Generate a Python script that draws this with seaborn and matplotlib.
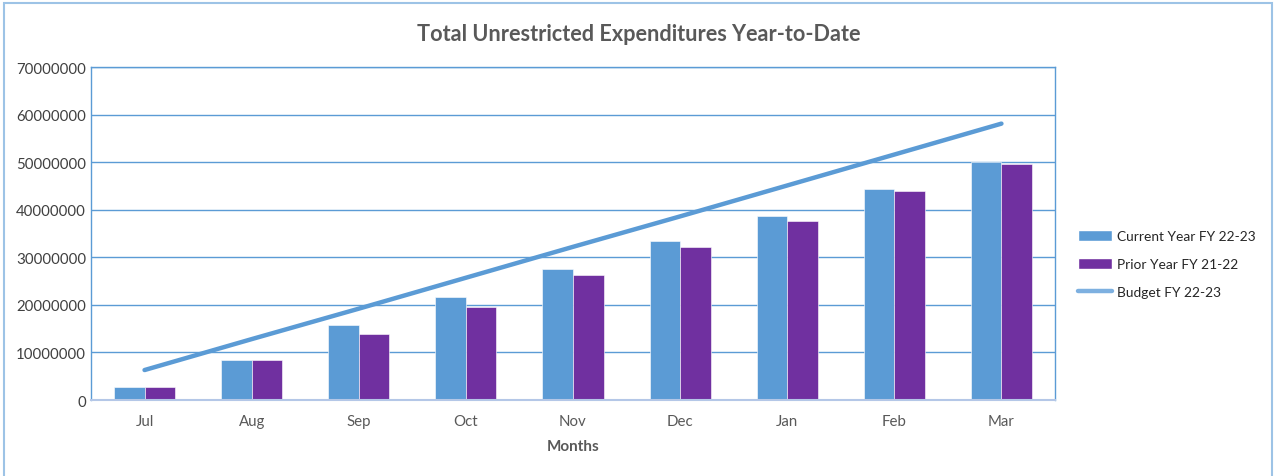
import numpy as np
import pandas as pd
import matplotlib.pyplot as plt
import seaborn as sns
from matplotlib.patches import Patch, Rectangle
from matplotlib.lines import Line2D

# data
months = ['Jul', 'Aug', 'Sep', 'Oct', 'Nov', 'Dec', 'Jan', 'Feb', 'Mar']
current_fy = [2.75e6, 8.4e6, 15.8e6, 21.7e6, 27.5e6, 33.4e6, 38.7e6, 44.4e6, 50.0e6]
prior_fy = [2.7e6, 8.4e6, 13.9e6, 19.6e6, 26.3e6, 32.2e6, 37.6e6, 43.9e6, 49.6e6]
budget_fy = [6.3e6, 12.8e6, 19.2e6, 25.7e6, 32.2e6, 38.6e6, 45.1e6, 51.6e6, 58.1e6]
series_names = ['Current Year FY 22-23', 'Prior Year FY 21-22', 'Budget FY 22-23']

blue = '#5B9BD5'
purple = '#7030A0'
grey_text = '#595959'

bars = pd.DataFrame({
    'Month': months * 2,
    'Amount': current_fy + prior_fy,
    'Series': [series_names[0]] * len(months) + [series_names[1]] * len(months),
})
line = pd.DataFrame({'pos': np.arange(len(months)), 'Amount': budget_fy})

sns.set_style('white')
plt.rcParams['font.family'] = ['Lato', 'DejaVu Sans']

fig = plt.figure(figsize=(12.78, 4.77), dpi=100)
ax = fig.add_axes([0.0712, 0.1593, 0.7543, 0.6981])

# outer chart border
fig.patches.append(Rectangle((4 / 1278, -0.05), 1268 / 1278, 1.05 - 4 / 477,
                             transform=fig.transFigure, fill=False,
                             edgecolor='#9DC3E6', linewidth=1.5))

sns.barplot(data=bars, x='Month', y='Amount', hue='Series',
            palette=[blue, purple], saturation=1, width=0.57, gap=0,
            edgecolor='white', linewidth=0.4, legend=False, ax=ax)
sns.lineplot(data=line, x='pos', y='Amount', color=blue, linewidth=3.2,
             solid_capstyle='round', ax=ax)

ax.set_xlim(-0.5, len(months) - 0.5)
ax.set_ylim(0, 70000000)
ax.set_yticks(np.arange(0, 70000001, 10000000))
ax.set_yticklabels([str(v) for v in range(0, 70000001, 10000000)])
ax.yaxis.grid(True, color=blue, linewidth=1)
ax.set_axisbelow(True)
for side in ['left', 'top', 'right']:
    ax.spines[side].set_color(blue)
    ax.spines[side].set_linewidth(1)
ax.spines['bottom'].set_color('#B4C7E7')
ax.spines['bottom'].set_linewidth(1.5)
ax.tick_params(axis='both', length=0, labelsize=10.8, labelcolor='#404040')
ax.tick_params(axis='x', pad=10, labelcolor=grey_text)

ax.set_xlabel('Months', fontsize=11, fontweight='bold', color=grey_text, labelpad=8)
ax.set_ylabel('')
fig.text(0.5, 0.928, 'Total Unrestricted Expenditures Year-to-Date',
         ha='center', va='center', fontsize=15.6, fontweight='bold', color=grey_text)

handles = [Patch(facecolor=blue), Patch(facecolor=purple),
           Line2D([0], [0], color='#7DB0E0', linewidth=3.2)]
leg = fig.legend(handles, series_names, loc='center left',
                 bbox_to_anchor=(0.834, 0.445), frameon=False, fontsize=9.9,
                 handlelength=2.45, handleheight=0.85, labelspacing=1.15,
                 handletextpad=0.4)
for t in leg.get_texts():
    t.set_color('#262626')

fig.savefig('out.png', dpi=100)
